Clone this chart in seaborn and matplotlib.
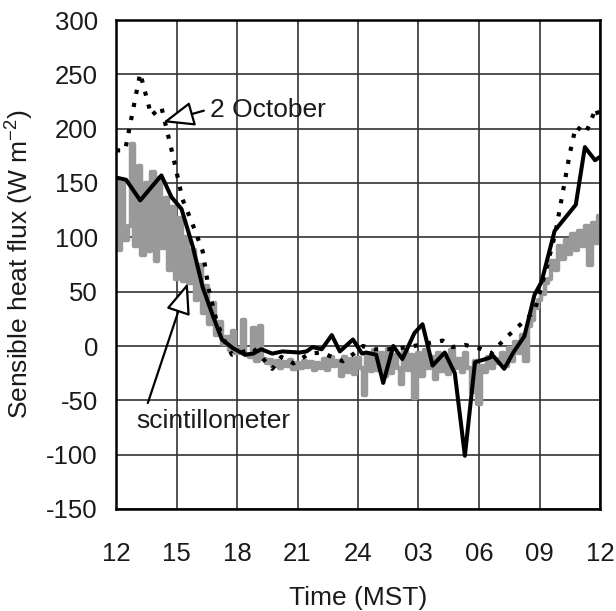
import numpy as np
import pandas as pd
import matplotlib
matplotlib.use("Agg")
import matplotlib.pyplot as plt
import seaborn as sns

# ---- data (hours since 12 MST) ----
ec_t = [0.0, 0.5, 1.2, 2.25, 2.75, 3.25, 3.8, 4.3, 4.8, 5.25, 5.8, 6.4, 6.8, 7.2, 7.75, 8.25,
        9.1, 9.45, 9.75, 10.2, 10.7, 11.1, 11.75, 12.2, 12.4, 12.9, 13.25, 13.75, 14.2, 14.8,
        15.2, 15.7, 16.3, 16.8, 17.3, 17.8, 18.5, 18.7, 19.25, 19.7, 20.25, 20.75, 21.1,
        21.75, 22.8, 23.25, 23.75, 24.0]
ec_h = [155, 153, 134, 157, 137, 126, 92, 54, 28, 6, -2, -8, -7, -3, -7, -5,
        -6, -5, -1, -3, 10, -5, 6, -7, -6, -8, -34, 0, -12, 12,
        20, -18, -6, -25, -101, -15, -11, -9, -21, -6, 9, 47, 59,
        106, 130, 183, 171, 174]

oct_t = [0.0, 0.45, 1.2, 1.75, 2.25, 2.8, 3.3, 3.8, 4.3, 4.6, 5.0, 5.4, 5.75, 6.2, 6.8, 7.3,
         7.75, 8.2, 8.8, 9.6, 10.2, 10.7, 11.25, 11.8, 12.25, 12.8, 13.5, 14.5, 15.3, 16.2,
         16.7, 17.3, 18.0, 18.6, 19.3, 20.3, 20.75, 21.3, 21.8, 22.5, 22.8, 23.3, 23.8, 24.0]
oct_h = [180, 180, 251, 212, 220, 177, 135, 112, 87, 52, 22, 4, -8, -6, -2, -12,
         -21, -10, -16, -7, -6, -10, -14, -7, 0, -3, -3, -1, 2, 5,
         -1, 1, -2, -7, 7, 24, 32, 68, 105, 177, 202, 196, 219, 207]

sc_t = [i / 6.0 for i in range(145)]
sc_h = [152, 88, 150, 98, 110, 186,
        92, 166, 84, 150, 87, 160,
        78, 155, 90, 136, 70, 128,
        62, 118, 60, 100, 58, 88,
        42, 75, 30, 55, 20, 40,
        10, 22, 2, 8, -4, 14,
        -6, -2, 24, -8, -10, 17,
        -14, 18, -12, -16, -13, -18,
        -14, -20, -15, -18, -13, -21,
        -16, -20, -14, -19, -15, -22,
        -16, -20, -12, -22, -10, -18,
        -14, -28, -10, -24, -12, -26,
        -11, -20, -45, -8, -23, -4,
        -22, -6, -28, -3, -25, -8,
        -20, -35, -5, -22, -8, -48,
        -6, -28, -4, -20, -10, -30,
        -6, -23, -8, -26, -4, -20,
        -12, -24, -6, -20, -42, -14,
        -53, -18, -24, -10, -20, -12,
        -16, -6, -18, -2, -14, 4,
        -6, 10, -14, 18, 24, 35,
        42, 48, 58, 62, 78, 70,
        92, 80, 98, 85, 103, 88,
        106, 92, 110, 75, 113, 95,
        120]

xticks = [0, 3, 6, 9, 12, 15, 18, 21, 24]
xticklabels = ["12", "15", "18", "21", "24", "03", "06", "09", "12"]
yticks = [-150, -100, -50, 0, 50, 100, 150, 200, 250, 300]

sns.set_theme(style="white")
plt.rcParams["font.family"] = ["Liberation Sans", "DejaVu Sans"]
plt.rcParams["mathtext.fontset"] = "custom"
plt.rcParams["mathtext.rm"] = "Liberation Sans"

fig = plt.figure(figsize=(6.16, 6.11), dpi=100)
ax = fig.add_axes([116 / 616, 1 - 509 / 611, (600 - 116) / 616, (509 - 20) / 611])

df_sc = pd.DataFrame({"t": sc_t, "h": sc_h})
df_ec = pd.DataFrame({"t": ec_t, "h": ec_h})
df_oc = pd.DataFrame({"t": oct_t, "h": oct_h})

sns.lineplot(data=df_sc, x="t", y="h", ax=ax, color="#999999", lw=3.2,
             drawstyle="steps-mid", estimator=None, sort=False, zorder=3)
sns.lineplot(data=df_oc, x="t", y="h", ax=ax, color="black", lw=3.0,
             linestyle=(0, (1, 2.2)), estimator=None, sort=False, zorder=4)
sns.lineplot(data=df_ec, x="t", y="h", ax=ax, color="black", lw=2.9,
             estimator=None, sort=False, zorder=5)

ax.set_xlim(0, 24)
ax.set_ylim(-150, 300)
ax.set_xticks(xticks)
ax.set_xticklabels(xticklabels)
ax.set_yticks(yticks)
ax.set_yticklabels([str(v) for v in yticks])
ax.set_xticks(np.arange(0, 25, 1), minor=True)
ax.set_yticks(np.arange(-150, 301, 10), minor=True)

ax.grid(True, which="major", color="#333333", lw=1.2, zorder=1)
ax.set_axisbelow(True)
for s in ax.spines.values():
    s.set_color("black")
    s.set_linewidth(1.8)
    s.set_zorder(6)

ax.tick_params(axis="both", which="major", direction="out", length=9, width=1.1,
               color="#444444", labelsize=18.5, labelcolor="#1a1a1a")
ax.tick_params(axis="both", which="minor", direction="out", length=4.5, width=1.0,
               color="#666666")
ax.tick_params(axis="x", which="major", pad=15)
ax.tick_params(axis="y", which="major", pad=4)

ax.set_xlabel("Time (MST)", fontsize=19, color="#1a1a1a", labelpad=14)
ax.set_ylabel("Sensible heat flux (W m$^{-2}$)", fontsize=19, color="#1a1a1a", labelpad=8)

arrow_kw = dict(arrowstyle="-|>,head_length=0.8,head_width=0.32", fc="white",
                ec="black", lw=1.6, mutation_scale=24, shrinkA=2, shrinkB=0)
ax.annotate("2 October", xy=(2.34, 206), xytext=(4.65, 217), fontsize=19,
            color="#1a1a1a", ha="left", va="center",
            arrowprops=dict(arrow_kw, relpos=(0.0, 0.55)), zorder=7)
ax.annotate("scintillometer", xy=(3.56, 58), xytext=(1.02, -69), fontsize=19,
            color="#1a1a1a", ha="left", va="center",
            arrowprops=dict(arrow_kw, relpos=(0.06, 1.0)), zorder=7)

fig.savefig("out.png", dpi=100, facecolor="white")
